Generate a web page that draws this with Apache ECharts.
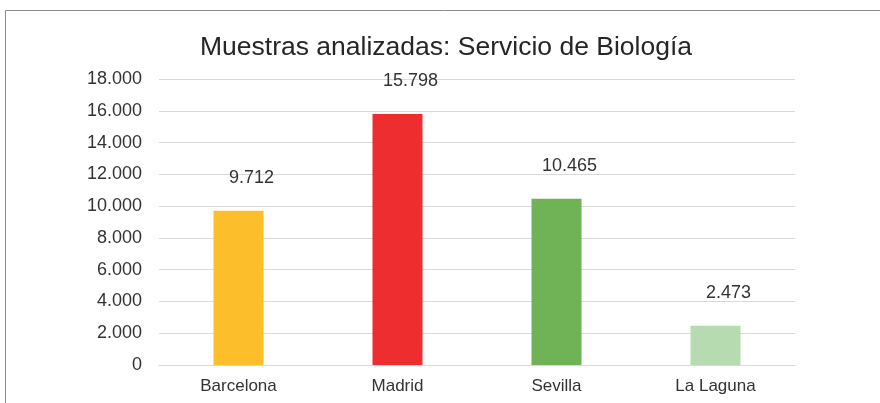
<!DOCTYPE html>
<html>
<head>
<meta charset="utf-8">
<script src="https://cdn.jsdelivr.net/npm/echarts@6/dist/echarts.min.js"></script>
<style>
  html, body { margin: 0; padding: 0; background: #fff; }
  #chart { width: 880px; height: 403px; }
</style>
</head>
<body>
<div id="chart"></div>
<script>
const categories = ["Barcelona", "Madrid", "Sevilla", "La Laguna"];
const muestras = [9712, 15798, 10465, 2473];
const barColors = ["#fdbe2c", "#ee2e2e", "#6fb356", "#b6dbb0"];
const titleText = "Muestras analizadas: Servicio de Biología";

const fmt = (v) => String(v).replace(/\B(?=(\d{3})+(?!\d))/g, ".");
const font = "Liberation Sans";

const chart = echarts.init(document.getElementById("chart"));

const option = {
  animation: false,
  title: {
    text: titleText,
    left: 441,
    textAlign: "center",
    top: 29,
    textStyle: { fontFamily: font, fontSize: 26.5, fontWeight: "normal", color: "#262626" },
  },
  graphic: [
    {
      type: "rect",
      shape: { x: 5.5, y: 10.5, width: 1000, height: 1000 },
      style: { fill: "none", stroke: "#8a8a8a", lineWidth: 1 },
      silent: true,
    },
  ],
  grid: { left: 159, right: 85, top: 79, bottom: 38 },
  xAxis: {
    type: "category",
    data: categories,
    axisLine: { lineStyle: { color: "#d9d9d9" } },
    axisTick: { show: false },
    axisLabel: { fontFamily: font, fontSize: 17, color: "#333", margin: 13 },
  },
  yAxis: {
    type: "value",
    min: 0,
    max: 18000,
    interval: 2000,
    axisLine: { show: false },
    axisTick: { show: false },
    splitLine: { lineStyle: { color: "#d9d9d9", width: 1 } },
    axisLabel: { fontFamily: font, fontSize: 18, color: "#333", margin: 17, formatter: fmt },
  },
  series: [
    {
      type: "bar",
      data: muestras.map((v, i) => ({ value: v, itemStyle: { color: barColors[i] } })),
      barWidth: 50,
      label: {
        show: true,
        position: "top",
        distance: 24,
        offset: [13, 0],
        fontFamily: font,
        fontSize: 18,
        color: "#333",
        formatter: (p) => fmt(p.value),
      },
    },
  ],
};

chart.setOption(option);
</script>
</body>
</html>
